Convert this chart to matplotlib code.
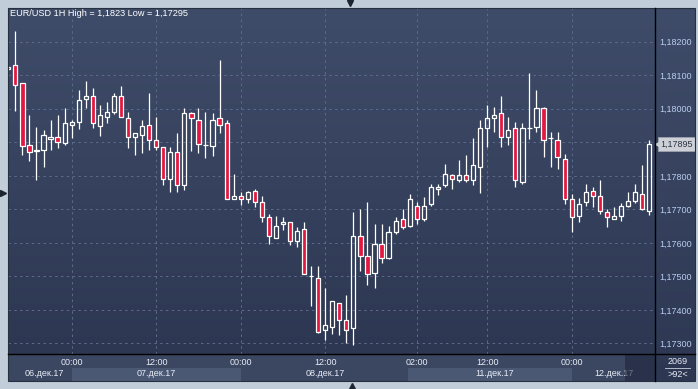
import numpy as np
import matplotlib.pyplot as plt
from matplotlib.patches import Rectangle
from matplotlib.lines import Line2D
from matplotlib.ticker import FuncFormatter
from matplotlib.colors import LinearSegmentedColormap
import matplotlib.transforms as mtransforms

plt.rcParams['font.family'] = ['Liberation Sans', 'DejaVu Sans']

W, H = 698, 389

# hourly bars, index 8 = 07 Dec 00:00
bars = list(range(-1, 91))
opens = [1.18120, 1.18130, 1.18076, 1.17891, 1.17875, 1.17876, 1.17911, 1.17915, 1.17899, 1.17951,
         1.17960, 1.18030, 1.18037, 1.17950, 1.17975, 1.17990, 1.18037, 1.17972, 1.17915, 1.17921,
         1.17951, 1.17906, 1.17885, 1.17790, 1.17870, 1.17772, 1.17987, 1.17966, 1.17893, 1.17890,
         1.17972, 1.17957, 1.17730, 1.17739, 1.17730, 1.17754, 1.17721, 1.17677, 1.17614, 1.17656,
         1.17662, 1.17605, 1.17641, 1.17501, 1.17495, 1.17340, 1.17349, 1.17420, 1.17370, 1.17346,
         1.17620, 1.17561, 1.17510, 1.17596, 1.17555, 1.17632, 1.17671, 1.17650, 1.17709, 1.17671,
         1.17715, 1.17760, 1.17772, 1.17802, 1.17787, 1.17802, 1.17787, 1.17826, 1.17942, 1.17972,
         1.17987, 1.17915, 1.17942, 1.17781, 1.17944, 1.17945, 1.18002, 1.17912, 1.17906, 1.17850,
         1.17730, 1.17680, 1.17721, 1.17755, 1.17739, 1.17692, 1.17671, 1.17680, 1.17709, 1.17724,
         1.17745, 1.17695]
highs = [1.18126, 1.18232, 1.18076, 1.17982, 1.17946, 1.17937, 1.17967, 1.17982, 1.18002, 1.17967,
         1.18056, 1.18083, 1.18061, 1.18011, 1.18021, 1.18046, 1.18068, 1.17991, 1.17927, 1.17967,
         1.18047, 1.17976, 1.17885, 1.17887, 1.17928, 1.18002, 1.17990, 1.18002, 1.17990, 1.17987,
         1.18145, 1.17966, 1.17806, 1.17751, 1.17756, 1.17761, 1.17740, 1.17687, 1.17681, 1.17678,
         1.17662, 1.17648, 1.17663, 1.17532, 1.17532, 1.17466, 1.17426, 1.17420, 1.17444, 1.17693,
         1.17701, 1.17722, 1.17657, 1.17657, 1.17650, 1.17678, 1.17701, 1.17746, 1.17722, 1.17737,
         1.17776, 1.17776, 1.17836, 1.17805, 1.17847, 1.17862, 1.17912, 1.17966, 1.18010, 1.18005,
         1.18038, 1.17975, 1.17960, 1.17957, 1.18107, 1.18055, 1.18005, 1.17930, 1.17930, 1.17864,
         1.17745, 1.17733, 1.17775, 1.17766, 1.17787, 1.17701, 1.17707, 1.17718, 1.17751, 1.17775,
         1.17832, 1.17906]
lows = [1.18120, 1.17994, 1.17863, 1.17845, 1.17789, 1.17825, 1.17878, 1.17884, 1.17892, 1.17912,
        1.17941, 1.18003, 1.17944, 1.17920, 1.17957, 1.17985, 1.17975, 1.17884, 1.17863, 1.17869,
        1.17878, 1.17878, 1.17774, 1.17753, 1.17753, 1.17759, 1.17875, 1.17869, 1.17854, 1.17860,
        1.17929, 1.17730, 1.17730, 1.17713, 1.17720, 1.17708, 1.17661, 1.17598, 1.17614, 1.17639,
        1.17595, 1.17589, 1.17507, 1.17412, 1.17331, 1.17309, 1.17329, 1.17325, 1.17301, 1.17295,
        1.17516, 1.17474, 1.17464, 1.17540, 1.17552, 1.17626, 1.17641, 1.17647, 1.17656, 1.17665,
        1.17709, 1.17744, 1.17766, 1.17760, 1.17781, 1.17781, 1.17774, 1.17750, 1.17885, 1.17930,
        1.17885, 1.17891, 1.17766, 1.17775, 1.17911, 1.17930, 1.17855, 1.17826, 1.17820, 1.17715,
        1.17632, 1.17662, 1.17709, 1.17707, 1.17686, 1.17647, 1.17671, 1.17665, 1.17707, 1.17718,
        1.17698, 1.17683]
closes = [1.18126, 1.18070, 1.17890, 1.17870, 1.17876, 1.17921, 1.17916, 1.17900, 1.17957, 1.17960,
          1.18025, 1.18037, 1.17957, 1.17981, 1.17990, 1.18037, 1.17975, 1.17915, 1.17927, 1.17950,
          1.17906, 1.17885, 1.17790, 1.17870, 1.17772, 1.17987, 1.17972, 1.17894, 1.17893, 1.17966,
          1.17951, 1.17730, 1.17739, 1.17730, 1.17751, 1.17721, 1.17676, 1.17620, 1.17650, 1.17662,
          1.17605, 1.17635, 1.17507, 1.17501, 1.17334, 1.17355, 1.17426, 1.17370, 1.17340, 1.17620,
          1.17561, 1.17507, 1.17596, 1.17555, 1.17632, 1.17665, 1.17647, 1.17730, 1.17671, 1.17709,
          1.17766, 1.17766, 1.17805, 1.17790, 1.17802, 1.17787, 1.17832, 1.17942, 1.17972, 1.17981,
          1.17915, 1.17936, 1.17787, 1.17942, 1.17944, 1.18002, 1.17906, 1.17912, 1.17855, 1.17730,
          1.17677, 1.17715, 1.17751, 1.17739, 1.17695, 1.17677, 1.17680, 1.17709, 1.17724, 1.17751,
          1.17701, 1.17894]

grid_bars = [8, 20, 32, 44, 57, 67, 79]
grid_times = ['00:00', '12:00', '00:00', '12:00', '02:00', '12:00', '00:00']
day_labels = ['06.дек.17', '07.дек.17', '08.дек.17', '11.дек.17', '12.дек.17']
day_pos = [4.1, 20, 44, 68, 85]
day_bands = [(8, 32), (55.8, 79)]
price_ticks = [1.173, 1.174, 1.175, 1.176, 1.177, 1.178, 1.179, 1.180, 1.181, 1.182]
last_price = 1.17895
title = 'EUR/USD 1H High = 1,1823 Low = 1,17295'

XLIM = (-1.045, 90.83)
YLIM = (1.172686, 1.183005)
RED = '#e3173f'


def frect(x0, y0, x1, y1):
    return [x0 / W, 1 - y1 / H, (x1 - x0) / W, (y1 - y0) / H]


fig = plt.figure(figsize=(W / 100, H / 100), dpi=100)
fig.patch.set_facecolor('#c2cdda')

grad = np.linspace(0, 1, 256).reshape(-1, 1)
cmap = LinearSegmentedColormap.from_list('bg', ['#3f4c69', '#2d3752'])

# right price panel and bottom time panel
axr = fig.add_axes(frect(655, 8, 695, 381))
axr.imshow(grad, cmap=cmap, extent=[0, 1, 0, 1], aspect='auto', origin='upper')
axr.set_xlim(0, 1)
axr.set_ylim(0, 1)
axr.set_xticks([])
axr.set_yticks([])
for s in axr.spines.values():
    s.set_visible(False)

axb = fig.add_axes(frect(8, 354, 655, 381))
axb.set_facecolor('#3b4661')
axb.set_xlim(XLIM)
axb.set_ylim(27, 0)
axb.set_xticks([])
axb.set_yticks([])
for s in axb.spines.values():
    s.set_visible(False)
for a, b in day_bands:
    axb.add_patch(Rectangle((a, 13.5), b - a, 14, color='#4b5874', lw=0, zorder=1))
for b, t in zip(grid_bars, grid_times):
    axb.text(b, 8.7, t, ha='center', va='center', color='#e6ecf6', fontsize=6.5, zorder=3)
for p, t in zip(day_pos, day_labels):
    axb.text(p, 19.6, t, ha='center', va='center', color='#e6ecf6', fontsize=6.5, zorder=3)
axb.add_patch(Rectangle((86.57, 0), 5, 27, color='#1d263b', alpha=0.6, lw=0, zorder=5))

# main chart
ax = fig.add_axes(frect(8, 8, 655, 354))
ax.imshow(grad, cmap=cmap, extent=[XLIM[0], XLIM[1], YLIM[0], YLIM[1]],
          aspect='auto', origin='upper', zorder=0)

bw = 0.6
for b, o, h, l, c in zip(bars, opens, highs, lows, closes):
    top, bot = max(o, c), min(o, c)
    ax.vlines(b, top, h, color='white', lw=0.9, zorder=3)
    ax.vlines(b, l, bot, color='white', lw=0.9, zorder=3)
    face = RED if c < o else 'none'
    ax.add_patch(Rectangle((b - bw / 2, bot), bw, top - bot, facecolor=face,
                           edgecolor='white', lw=0.9, zorder=4))

ax.set_xlim(XLIM)
ax.set_ylim(YLIM)
ax.set_xticks(grid_bars)
ax.set_yticks(price_ticks)
ax.tick_params(axis='x', length=0, labelbottom=False)
ax.yaxis.tick_right()
ax.yaxis.set_major_formatter(FuncFormatter(
    lambda v, _: '' if abs(v - last_price) < 0.0003 else f'{v:.5f}'.replace('.', ',')))
ax.tick_params(axis='y', length=0, pad=3, labelsize=6.5, labelcolor='#b9cdf0')
ax.grid(True, color='#5c6c8b', lw=0.7, ls=(0, (2.5, 3.5)), zorder=1)
for s in ax.spines.values():
    s.set_visible(False)

# last price marker
tr = mtransforms.blended_transform_factory(ax.transAxes, ax.transData)
ax.text(1.0 + 5 / 647, last_price, '1,17895', transform=tr, ha='left', va='center',
        fontsize=6.5, color='#2b3342', clip_on=False, zorder=6,
        bbox=dict(boxstyle='square,pad=0.25', fc='#cdd1d7', ec='#a3a8b0', lw=0.5))
ax.plot([1.0 + 2.5 / 647], [last_price], marker='<', ms=5, color='#cdd1d7',
        transform=tr, clip_on=False, zorder=6)

fig.text(10 / W, 1 - 14 / H, title, ha='left', va='center', color='white', fontsize=6.6)

# corner box
fig.text(677.5 / W, 1 - 361.7 / H, '2069', ha='center', va='center', color='#e6ecf6', fontsize=6.5)
fig.text(677.5 / W, 1 - 374.3 / H, '>92<', ha='center', va='center', color='#e6ecf6', fontsize=6.5)
fig.add_artist(Line2D([665 / W, 690 / W], [1 - 368.3 / H] * 2, color='#c8d0e0', lw=0.6))

# panel separators and frame
fig.add_artist(Line2D([8 / W, 695 / W], [1 - 354 / H] * 2, color='black', lw=1))
fig.add_artist(Line2D([655 / W, 655 / W], [1 - 8 / H, 1 - 381 / H], color='black', lw=1))
fig.add_artist(Rectangle((8 / W, 1 - 381 / H), 687 / W, 373 / H, transform=fig.transFigure,
                         fill=False, ec='#27303f', lw=0.8))

# scroll triangles
for x, y, m in [(350, 3, 'v'), (3, 193, '>'), (352, 386, '^')]:
    fig.add_artist(Line2D([x / W], [1 - y / H], marker=m, ms=5, color='#1c2331', lw=0))

plt.savefig('out.png', dpi=100, facecolor=fig.get_facecolor())
